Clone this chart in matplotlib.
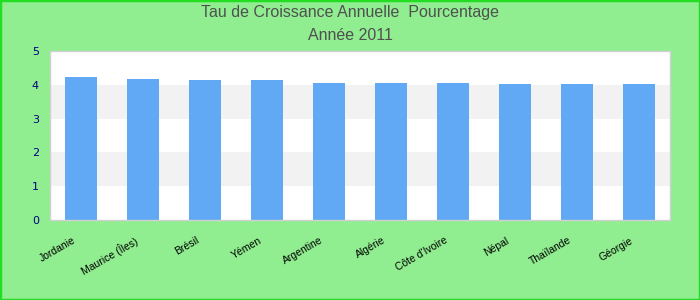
import matplotlib
matplotlib.use("Agg")
import matplotlib.pyplot as plt
from matplotlib.patches import Rectangle
from matplotlib.transforms import ScaledTranslation

countries = ["Jordanie", "Maurice (Îles)", "Brésil", "Yémen", "Argentine",
             "Algérie", "Côte d'Ivoire", "Népal", "Thaïlande", "Géorgie"]
values = [4.22, 4.17, 4.13, 4.13, 4.05, 4.05, 4.05, 4.02, 4.02, 4.02]
yticks = [0, 1, 2, 3, 4, 5]
title_lines = ["Tau de Croissance Annuelle  Pourcentage", "Année 2011"]

fig = plt.figure(figsize=(7, 3), dpi=100, facecolor="#90ee90")
ax = fig.add_axes([50/700, 80/300, 620/700, 169/300])
ax.set_facecolor("white")

for y0 in (1, 3):
    ax.axhspan(y0, y0 + 1, color="#f2f2f2", zorder=0, lw=0)

x = range(len(countries))
ax.bar(x, values, width=0.52, color="#61a9f4", zorder=2)
ax.set_xlim(-0.5, len(countries) - 0.5)
ax.set_ylim(0, 5)
ax.set_yticks(yticks)
ax.set_yticklabels([str(t) for t in yticks], color="#000080", fontsize=8)
ax.set_xticks(list(x))
ax.set_xticklabels(countries, rotation=30, ha="right", rotation_mode="anchor",
                   fontsize=7.5, family="Liberation Sans")
ax.tick_params(length=0)
ax.tick_params(axis="y", pad=8)
ax.tick_params(axis="x", pad=6)
off = ScaledTranslation(-9/100, -7/100, fig.dpi_scale_trans)
for lbl in ax.get_xticklabels():
    lbl.set_transform(lbl.get_transform() + off)
for s in ax.spines.values():
    s.set_color("#d0d0d0")
    s.set_linewidth(1)

fig.text(0.5, 1 - 13/300, title_lines[0], ha="center", va="center",
         fontsize=11.5, color="#505050", family="Liberation Sans")
fig.text(0.5, 1 - 36/300, title_lines[1], ha="center", va="center",
         fontsize=11.5, color="#505050", family="Liberation Sans")

fig.patches.append(Rectangle((0, 0), 1, 1, transform=fig.transFigure,
                             fill=False, edgecolor="#22dd22", linewidth=2.5))
fig.savefig("out.png", dpi=100, facecolor=fig.get_facecolor())
